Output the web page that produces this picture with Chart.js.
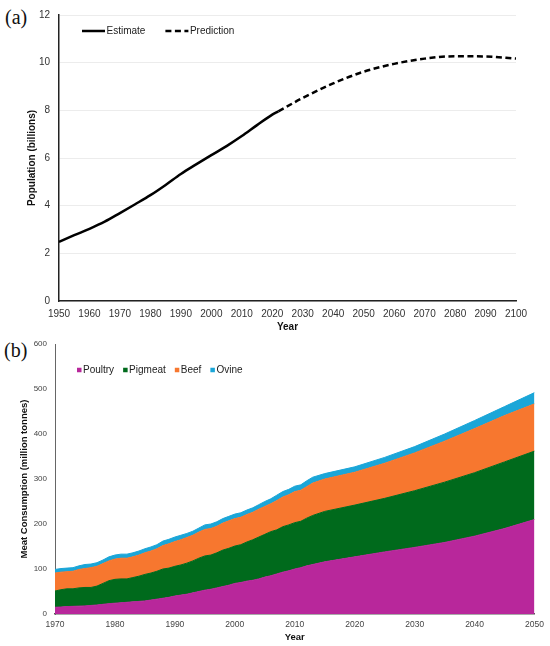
<!DOCTYPE html>
<html>
<head>
<meta charset="utf-8">
<script src="https://cdn.jsdelivr.net/npm/chart.js@4.4.1/dist/chart.umd.min.js"></script>
<style>
  body { margin: 0; background: #fff; width: 550px; height: 646px; position: relative; overflow: hidden; }
  canvas { position: absolute; left: 0; }
  #popChart { top: 0; }
  #meatChart { top: 330px; }
  .tag { position: absolute; font-family: "Liberation Serif", "Times New Roman", serif; font-size: 20px; line-height: 20px; color: #111; }
</style>
</head>
<body>
<div class="tag" style="left:5px;top:7px">(a)</div>
<div class="tag" style="left:4px;top:340px">(b)</div>
<canvas id="popChart" width="550" height="336"></canvas>
<canvas id="meatChart" width="550" height="316"></canvas>
<script>
// (a) world population, billions
const estimateYears = [1950, 1955, 1960, 1965, 1970, 1975, 1980, 1985, 1990, 1995, 2000, 2005, 2010, 2015, 2020, 2022]
const estimatePop = [2.48, 2.76, 3.03, 3.33, 3.69, 4.06, 4.44, 4.87, 5.33, 5.73, 6.12, 6.50, 6.92, 7.38, 7.82, 7.96]
const predictionYears = [2022, 2030, 2040, 2050, 2060, 2070, 2080, 2090, 2100]
const predictionPop = [7.96, 8.52, 9.13, 9.62, 9.95, 10.17, 10.27, 10.26, 10.17]

// (b) meat consumption, million tonnes
const meatYears = [
  1970, 1971, 1972, 1973, 1974, 1975, 1976, 1977, 1978, 1979,
  1980, 1981, 1982, 1983, 1984, 1985, 1986, 1987, 1988, 1989,
  1990, 1991, 1992, 1993, 1994, 1995, 1996, 1997, 1998, 1999,
  2000, 2001, 2002, 2003, 2004, 2005, 2006, 2007, 2008, 2009,
  2010, 2011, 2012, 2013,
  2015, 2020, 2025, 2030, 2035, 2040, 2045, 2050
]
const poultry = [
  15, 15.5, 16.5, 17, 17.5, 18, 19, 20, 21.5, 23,
  24, 25, 26, 27, 28, 29, 31, 33, 35, 37,
  40, 42, 44, 47, 50, 53, 55, 58, 61, 64,
  68, 70, 73, 75, 78, 82, 85, 89, 93, 96,
  100, 103, 107, 110,
  116, 127, 138, 148, 159, 173, 190, 210
]
const pigmeat = [
  36, 38.5, 39.5, 39, 40.5, 41, 40, 42, 46.5, 51,
  53, 53, 52, 54, 56, 59, 60, 62, 65, 65,
  66, 67, 69, 71, 74, 76, 76, 78, 81, 82,
  83, 84, 87, 90, 93, 95, 98, 98, 101, 102,
  103, 103, 106, 109,
  112, 115, 119, 126, 134, 141, 148, 152
]
const beef = [
  40, 39, 38, 39, 41, 42, 44, 44, 44, 44,
  45, 46, 46, 46, 47, 48, 49, 50, 52, 54,
  55, 56, 57, 57, 58, 59, 59, 59, 60, 61,
  61, 61, 61, 61, 62, 62, 62, 65, 66, 67,
  69, 69, 70, 72,
  72, 73, 78, 84, 91, 98, 103, 105
]
const ovine = [
  8, 8, 8, 8, 8, 9, 8, 8, 8, 9,
  9, 9, 9, 9, 9, 9, 9, 9, 10, 10,
  10, 10, 9, 9, 9, 10, 10, 10, 10, 10,
  10, 10, 10, 10, 10, 11, 11, 12, 12, 12,
  12, 12, 13, 13,
  12, 12, 13, 14, 16, 18, 20, 25
]
const meatLabels = ['Poultry', 'Pigmeat', 'Beef', 'Ovine']
const meatColors = ['#b8279b', '#006a1c', '#f7772f', '#1ba6d8']

const sansFont = '"Liberation Sans", Arial, sans-serif'
Chart.defaults.font.family = sansFont
Chart.defaults.color = '#333'

// legend drawn inside the plot area, as in the original figure
const insetLegend = {
  id: 'insetLegend',
  afterDraw(chart, args, opts) {
    const ctx = chart.ctx
    ctx.save()
    ctx.font = opts.font
    ctx.textBaseline = 'middle'
    let x = opts.x
    chart.data.datasets.forEach(ds => {
      if (opts.kind === 'line') {
        ctx.strokeStyle = ds.borderColor
        ctx.lineWidth = ds.borderWidth
        ctx.setLineDash(ds.borderDash || [])
        ctx.beginPath()
        ctx.moveTo(x, opts.y)
        ctx.lineTo(x + opts.box, opts.y)
        ctx.stroke()
        ctx.setLineDash([])
      } else {
        ctx.fillStyle = ds.backgroundColor
        ctx.fillRect(x, opts.y - opts.box / 2, opts.box, opts.box)
      }
      x += opts.box + opts.gap
      ctx.fillStyle = opts.color
      ctx.fillText(ds.label, x, opts.y)
      x += ctx.measureText(ds.label).width + opts.spacing
    })
    ctx.restore()
  }
}

function toPoints(xs, ys) {
  return xs.map((x, i) => ({x: x, y: ys[i]}))
}

new Chart(document.getElementById('popChart'), {
  type: 'line',
  data: {
    datasets: [{
      label: 'Estimate',
      data: toPoints(estimateYears, estimatePop),
      borderColor: '#000',
      borderWidth: 2.5,
      pointRadius: 0,
      tension: 0.4,
      cubicInterpolationMode: 'monotone'
    }, {
      label: 'Prediction',
      data: toPoints(predictionYears, predictionPop),
      borderColor: '#000',
      borderWidth: 2.5,
      borderDash: [6, 3.5],
      pointRadius: 0,
      tension: 0.4,
      cubicInterpolationMode: 'monotone'
    }]
  },
  options: {
    responsive: false,
    animation: false,
    layout: {padding: {left: 0, right: 34, top: 10, bottom: 0}},
    plugins: {
      legend: {display: false},
      tooltip: {enabled: false},
      insetLegend: {kind: 'line', x: 82, y: 31, box: 23, gap: 1.5, spacing: 20, font: '10px ' + sansFont, color: '#222'}
    },
    scales: {
      x: {
        type: 'linear', min: 1950, max: 2100,
        ticks: {stepSize: 10, padding: 7, font: {size: 10}, callback: v => String(v)},
        grid: {display: false, drawTicks: false},
        border: {color: '#222', width: 1.5},
        title: {display: true, text: 'Year', color: '#111', font: {size: 10, weight: 'bold'}, padding: {top: 0, bottom: 3}},
        afterFit: s => { s.height = 35 }
      },
      y: {
        min: 0, max: 12,
        ticks: {stepSize: 2, padding: 9, font: {size: 10}},
        grid: {color: '#ececec', drawTicks: false},
        border: {color: '#222', width: 1.5},
        title: {display: true, text: 'Population (billions)', color: '#111', font: {size: 10, weight: 'bold'}, padding: {top: 26, bottom: 0}},
        afterFit: s => { s.width = 59 }
      }
    }
  },
  plugins: [insetLegend]
})

const meatValues = [poultry, pigmeat, beef, ovine]

new Chart(document.getElementById('meatChart'), {
  type: 'line',
  data: {
    datasets: meatLabels.map((label, i) => ({
      label: label,
      data: toPoints(meatYears, meatValues[i]),
      backgroundColor: meatColors[i],
      borderColor: meatColors[i],
      borderWidth: 1,
      pointRadius: 0,
      tension: 0,
      fill: i === 0 ? 'origin' : '-1'
    }))
  },
  options: {
    responsive: false,
    animation: false,
    layout: {padding: {left: 0, right: 15, top: 14, bottom: 0}},
    plugins: {
      legend: {display: false},
      tooltip: {enabled: false},
      insetLegend: {kind: 'box', x: 77, y: 40, box: 4.5, gap: 1.5, spacing: 9, font: '10px ' + sansFont, color: '#222'}
    },
    scales: {
      x: {
        type: 'linear', min: 1970, max: 2050,
        ticks: {stepSize: 10, padding: 6, font: {size: 8.5}, color: '#444', callback: v => String(v)},
        grid: {display: false, drawTicks: false},
        border: {color: '#555', width: 1.5},
        title: {display: true, text: 'Year', color: '#111', font: {size: 9.5, weight: 'bold'}, padding: {top: 0, bottom: 3.3}},
        afterFit: s => { s.height = 32 }
      },
      y: {
        stacked: true,
        min: 0, max: 600,
        ticks: {stepSize: 100, padding: 8, font: {size: 8}, color: '#444'},
        grid: {display: false, drawTicks: false},
        border: {color: '#666', width: 1},
        title: {display: true, text: 'Meat Consumption (million tonnes)', color: '#111', font: {size: 9.5, weight: 'bold'}, padding: {top: 19, bottom: 0}},
        afterFit: s => { s.width = 55 }
      }
    }
  },
  plugins: [insetLegend]
})
</script>
</body>
</html>
